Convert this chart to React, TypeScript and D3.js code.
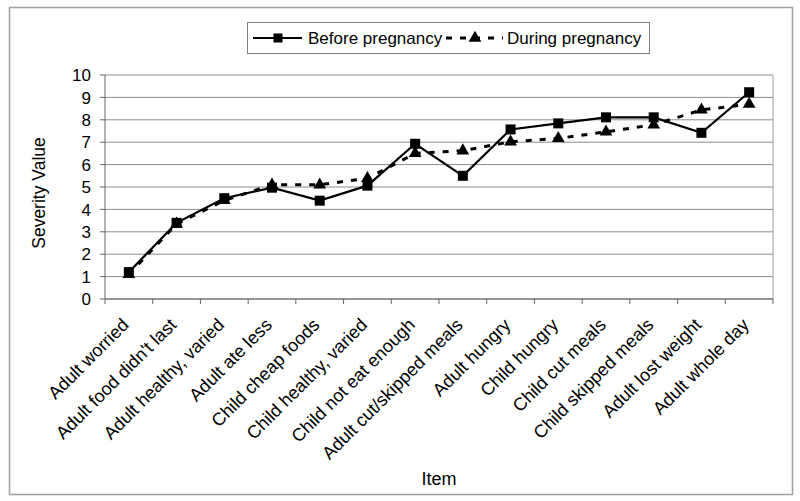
import React from "react";
import * as d3 from "d3";

const categories = [
  "Adult worried",
  "Adult food didn't last",
  "Adult healthy, varied",
  "Adult ate less",
  "Child cheap foods",
  "Child healthy, varied",
  "Child not eat enough",
  "Adult cut/skipped meals",
  "Adult hungry",
  "Child hungry",
  "Child cut meals",
  "Child skipped meals",
  "Adult lost weight",
  "Adult whole day",
];
const beforeValues = [1.2, 3.4, 4.5, 4.97, 4.39, 5.06, 6.93, 5.5, 7.57, 7.84, 8.11, 8.11, 7.42, 9.23];
const duringValues = [1.1, 3.35, 4.4, 5.1, 5.1, 5.39, 6.5, 6.62, 7.02, 7.17, 7.46, 7.78, 8.44, 8.7];
const yTicks = [0, 1, 2, 3, 4, 5, 6, 7, 8, 9, 10];

const W = 800, H = 501;
const plot = { left: 105, right: 773, top: 75, bottom: 299 };
const FONT = "'Liberation Sans', Arial, sans-serif";
const DASH = "6,8";

export default function App() {
  const x = d3.scaleBand<string>().domain(categories).range([plot.left, plot.right]);
  const y = d3.scaleLinear().domain([0, 10]).range([plot.bottom, plot.top]);
  const cx = (c: string) => (x(c) as number) + x.bandwidth() / 2;
  const line = d3.line<number>().x((_, i) => cx(categories[i])).y((v) => y(v));
  const boundaries = d3.range(categories.length + 1).map((i) => plot.left + i * x.bandwidth());
  const tri = d3.symbol().type(d3.symbolTriangle).size(70)();
  const sq = 10;

  return (
    <svg width={W} height={H} style={{ position: "absolute", left: 0, top: 0, fontFamily: FONT }}>
      <rect x={0} y={0} width={W} height={H} fill="#fff" />
      <rect x={9.5} y={7.5} width={783} height={487} fill="none" stroke="#a0a0a0" strokeWidth={1.5} />
      {/* grid */}
      {yTicks.map((t) => (
        <line key={"g" + t} x1={plot.left} x2={plot.right} y1={y(t)} y2={y(t)} stroke="#8c8c8c" strokeWidth={1} />
      ))}
      <line x1={plot.right} x2={plot.right} y1={plot.top} y2={plot.bottom} stroke="#a0a0a0" strokeWidth={1} />
      {/* axes */}
      <line x1={plot.left} x2={plot.left} y1={plot.top} y2={plot.bottom} stroke="#666" strokeWidth={1} />
      <line x1={plot.left} x2={plot.right} y1={plot.bottom} y2={plot.bottom} stroke="#666" strokeWidth={1} />
      {yTicks.map((t) => (
        <g key={"yt" + t}>
          <line x1={plot.left - 5} x2={plot.left} y1={y(t)} y2={y(t)} stroke="#666" />
          <text x={plot.left - 14} y={y(t)} dy="0.36em" textAnchor="end" fontSize={17} fill="#000">
            {t}
          </text>
        </g>
      ))}
      {boundaries.map((b, i) => (
        <line key={"xt" + i} x1={b} x2={b} y1={plot.bottom} y2={plot.bottom + 5} stroke="#666" />
      ))}
      {categories.map((c) => {
        const px = cx(c) + 1;
        const py = plot.bottom + 27;
        return (
          <text key={c} x={px} y={py} textAnchor="end" fontSize={18} fill="#000" transform={`rotate(-45 ${px} ${py})`}>
            {c}
          </text>
        );
      })}
      <text x={(plot.left + plot.right) / 2} y={485} textAnchor="middle" fontSize={18} fill="#000">
        Item
      </text>
      <text transform={`translate(45 ${(plot.top + plot.bottom) / 2 + 6}) rotate(-90)`} textAnchor="middle" fontSize={17.5} fill="#000">
        Severity Value
      </text>
      {/* series */}
      <path d={line(duringValues) || ""} fill="none" stroke="#000" strokeWidth={3} strokeDasharray={DASH} />
      <path d={line(beforeValues) || ""} fill="none" stroke="#000" strokeWidth={2.2} />
      {duringValues.map((v, i) => (
        <path key={"d" + i} d={tri || ""} transform={`translate(${cx(categories[i])},${y(v)})`} fill="#000" />
      ))}
      {beforeValues.map((v, i) => (
        <rect key={"b" + i} x={cx(categories[i]) - sq / 2} y={y(v) - sq / 2} width={sq} height={sq} fill="#000" />
      ))}
      {/* legend */}
      <rect x={247.5} y={22.5} width={402} height={31} fill="#fff" stroke="#808080" strokeWidth={1} />
      <line x1={253} x2={302} y1={38} y2={38} stroke="#000" strokeWidth={2.2} />
      <rect x={278 - 4.5} y={38 - 4.5} width={9} height={9} fill="#000" />
      <text x={308} y={38} dy="0.36em" fontSize={17} fill="#000">Before pregnancy</text>
      <line x1={446} x2={503} y1={38} y2={38} stroke="#000" strokeWidth={3} strokeDasharray={DASH} />
      <path d={tri || ""} transform="translate(475,38)" fill="#000" />
      <text x={507} y={38} dy="0.36em" fontSize={17} fill="#000">During pregnancy</text>
    </svg>
  );
}
